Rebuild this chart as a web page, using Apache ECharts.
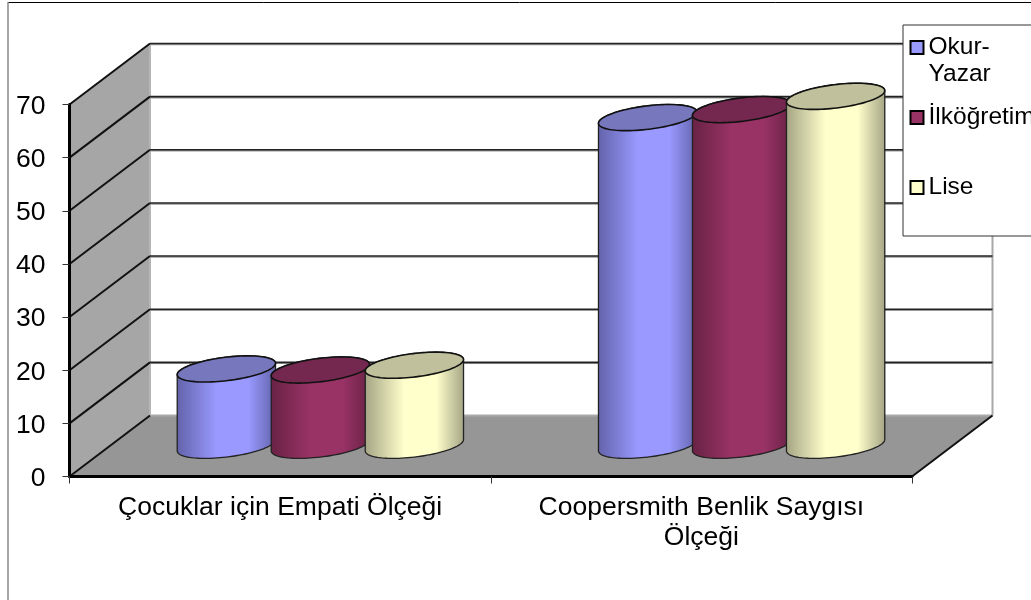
<!DOCTYPE html>
<html><head><meta charset="utf-8">
<style>html,body{margin:0;padding:0;background:#fff}#c{width:1031px;height:600px}</style>
<script src="https://cdn.jsdelivr.net/npm/echarts@6/dist/echarts.min.js"></script>
</head><body><div id="c"></div>
<script>
const categories = ['Çocuklar için Empati Ölçeği', 'Coopersmith Benlik Saygısı\nÖlçeği'];
const yTicks = [0, 10, 20, 30, 40, 50, 60, 70];
const okurYazar = [14.5, 61.8];
const ilkogretim = [14.3, 63.3];
const lise = [15.2, 65.8];
const seriesNames = ['Okur-\nYazar', 'İlköğretim', 'Lise'];

const FONT = '"Liberation Sans", Arial, sans-serif';
const DX = 80.5, DY = -61;          // depth of the 3D box
const A = 49.5, B = 11.7, PHI = -7 * Math.PI / 180, STEP = 94;
const palette = [
  {face:'#9999FF', edge:'#6262AA', top:'#7777BE'},
  {face:'#993366', edge:'#682244', top:'#74284F'},
  {face:'#FFFFCC', edge:'#A4A484', top:'#C0C09C'}
];

function ell(cx, cy, t) {
  const c = Math.cos(t), s = Math.sin(t);
  return [cx + A*c*Math.cos(PHI) - B*s*Math.sin(PHI), cy + A*c*Math.sin(PHI) + B*s*Math.cos(PHI)];
}
function cylinderItem(idx) {
  return function (params, api) {
    const cat = api.value(0), val = api.value(1);
    const p0 = api.coord([cat, 0]), p1 = api.coord([cat, val]);
    const cx = p0[0] + DX/2 + (idx-1)*STEP;
    const by = p0[1] + DY/2 - 0.7, ty = p1[1] + DY/2;
    const t0 = Math.atan(-(B/A)*Math.tan(PHI));
    const body = [];
    for (let i = 0; i <= 48; i++) body.push(ell(cx, by, t0 + Math.PI*i/48));
    for (let i = 0; i <= 48; i++) body.push(ell(cx, ty, t0 + Math.PI + Math.PI*i/48));
    const top = [];
    for (let i = 0; i < 96; i++) top.push(ell(cx, ty, 2*Math.PI*i/96));
    const c = palette[idx];
    return {type:'group', children:[
      {type:'polygon', shape:{points:body}, style:{
        fill:new echarts.graphic.LinearGradient(0,0,1,0,[
          {offset:0,color:c.edge},{offset:0.4,color:c.face},
          {offset:0.72,color:c.face},{offset:1,color:c.edge}]),
        stroke:'#222', lineWidth:1.3}},
      {type:'polygon', shape:{points:top}, style:{fill:c.top, stroke:'#111', lineWidth:1.6}}
    ]};
  };
}
function cylSeries(idx, vals) {
  return {
    type:'custom', name:seriesNames[idx], z:5, clip:false,
    itemStyle:{color:palette[idx].face},
    encode:{x:0,y:1},
    data:vals.map((v,i)=>[i,v]),
    renderItem:cylinderItem(idx)
  };
}
const chart = echarts.init(document.getElementById('c'), null, {renderer:'canvas'});
chart.setOption({
  animation:false,
  backgroundColor:'#fff',
  grid:{left:69.5, top:104.5, width:842.5, height:372, containLabel:false},
  xAxis:{type:'category', data:categories, z:4,
    axisLine:{lineStyle:{color:'#000',width:3}},
    axisTick:{show:true,length:7,lineStyle:{color:'#333',width:1}},
    axisLabel:{color:'#000',fontFamily:FONT,fontSize:26.5,lineHeight:30,margin:16,interval:0},
    splitLine:{show:false}},
  yAxis:{type:'value', min:0, max:70, interval:10, z:4,
    axisLine:{show:true,lineStyle:{color:'#000',width:3}},
    axisTick:{show:true,length:7,lineStyle:{color:'#333',width:1}},
    axisLabel:{color:'#000',fontFamily:FONT,fontSize:26.5,margin:24,
      formatter:v=>'{a|'+v+'}',
      rich:{a:{color:'#000',fontFamily:FONT,fontSize:26.5,padding:[4,0,0,0]}}},
    splitLine:{show:false}},
  legend:{
    left:904.5, top:2, orient:'vertical', icon:'rect', itemWidth:13, itemHeight:13, itemGap:-11,
    data:seriesNames, selectedMode:false,
    itemStyle:{borderColor:'#000',borderWidth:2},
    textStyle:{color:'#000',fontFamily:FONT,fontSize:24.5,lineHeight:27},
    formatter:n=>'\n'+n+'\n'.repeat(2-n.split('\n').length),
    z:12
  },
  graphic:[
    {type:'line',z:0,silent:true,shape:{x1:8,y1:2.5,x2:1031,y2:2.5},style:{stroke:'#000',lineWidth:1}},
    {type:'line',z:0,silent:true,shape:{x1:8,y1:2,x2:8,y2:600},style:{stroke:'#888',lineWidth:1.5}},
    {type:'rect',z:10,silent:true,shape:{x:903,y:25,width:200,height:211},style:{fill:'#fff',stroke:'#333',lineWidth:1}}
  ],
  series:[
    {type:'custom', name:'walls', z:1, silent:true, clip:false, data:[[0,0]], encode:{x:0,y:1},
     renderItem(params, api){
       const g = params.coordSys, x0=g.x, x1=g.x+g.width, y0=g.y+g.height, yt=g.y;
       return {type:'group',children:[
         {type:'polygon',shape:{points:[[x0,y0],[x0+DX,y0+DY],[x0+DX,yt+DY],[x0,yt]]},style:{fill:'#A6A6A6'}},
         {type:'polygon',shape:{points:[[x0,y0],[x0+DX,y0+DY],[x1+DX,y0+DY],[x1,y0]]},style:{fill:'#969696'}},
         {type:'line',shape:{x1:x0+DX,y1:yt+DY,x2:x0+DX,y2:y0+DY},style:{stroke:'#B5B5B5',lineWidth:2}},
         {type:'line',shape:{x1:x1+DX,y1:yt+DY,x2:x1+DX,y2:y0+DY},style:{stroke:'#A8A8A8',lineWidth:2}},
         {type:'line',shape:{x1:x0+DX,y1:y0+DY,x2:x1+DX,y2:y0+DY},style:{stroke:'#AAAAAA',lineWidth:2}},
         {type:'line',shape:{x1:x1,y1:y0,x2:x1+DX,y2:y0+DY},style:{stroke:'#111',lineWidth:2}}
       ]};
     }},
    {type:'custom', name:'grid', z:2, silent:true, clip:false,
     data:yTicks.map(v=>[0,v]), encode:{x:0,y:1},
     renderItem(params, api){
       const g = params.coordSys, v = api.value(1), y = api.coord([0,v])[1];
       const x0=g.x, x1=g.x+g.width;
       const kids=[{type:'line',shape:{x1:x0,y1:y,x2:x0+DX,y2:y+DY},style:{stroke:'#111',lineWidth:2}}];
       if(v>0){
         kids.push({type:'line',shape:{x1:x0+DX,y1:y+DY+1,x2:x1+DX,y2:y+DY+1},style:{stroke:'#999',lineWidth:1.5}});
         kids.push({type:'line',shape:{x1:x0+DX,y1:y+DY,x2:x1+DX,y2:y+DY},style:{stroke:'#222',lineWidth:1.6}});
       }
       return {type:'group',children:kids};
     }},
    cylSeries(0, okurYazar),
    cylSeries(1, ilkogretim),
    cylSeries(2, lise)
  ]
});
</script></body></html>
